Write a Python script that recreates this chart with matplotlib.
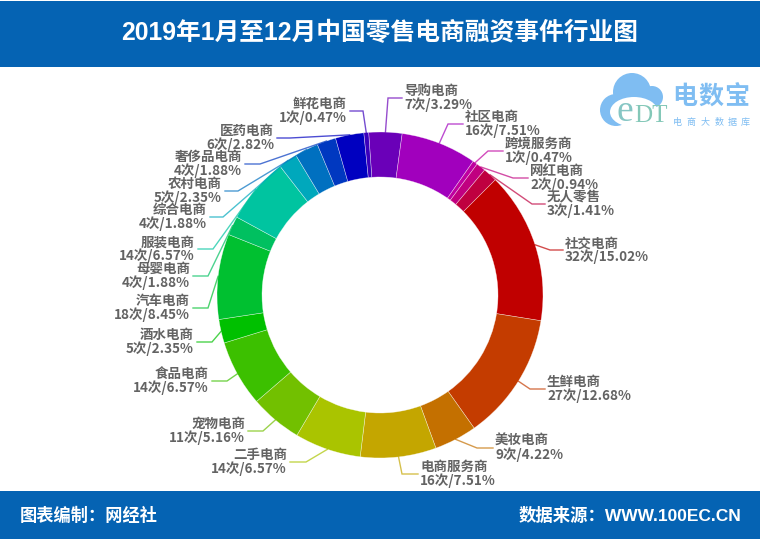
import matplotlib
matplotlib.use('Agg')
import matplotlib.pyplot as plt
import numpy as np
from matplotlib.patches import Rectangle, Circle, Ellipse

plt.rcParams['font.family'] = ['Noto Sans CJK SC', 'DejaVu Sans']
BAR_FONT = ['Liberation Sans', 'Noto Sans CJK SC']

names = ['导购电商', '社区电商', '跨境服务商', '网红电商', '无人零售', '社交电商', '生鲜电商',
         '美妆电商', '电商服务商', '二手电商', '宠物电商', '食品电商', '酒水电商', '汽车电商',
         '母婴电商', '服装电商', '综合电商', '农村电商', '奢侈品电商', '医药电商', '鲜花电商']
counts = [7, 16, 1, 2, 3, 32, 27, 9, 16, 14, 11, 14, 5, 18, 4, 14, 4, 5, 4, 6, 1]
pcts = ['3.29', '7.51', '0.47', '0.94', '1.41', '15.02', '12.68', '4.22', '7.51', '6.57', '5.16',
        '6.57', '2.35', '8.45', '1.88', '6.57', '1.88', '2.35', '1.88', '2.82', '0.47']
colors = ['#6a00b8', '#a100bd', '#bf00a0', '#c00080', '#bf0040', '#c00000', '#c43c00',
          '#c47000', '#c4a600', '#aac400', '#72c000', '#3cc000', '#00c000', '#00c030',
          '#00c060', '#00c4a0', '#00a8bc', '#0070c0', '#0038c0', '#0000c0', '#3a00bc']

# elbow of each leader line and where it ends, in image pixels (y down)
elbows = [(388, 98), (448, 124), (488, 151), (513, 178), (532, 204), (550, 250), (530, 389),
          (477, 448), (402, 474), (306, 462), (263, 431), (227, 381), (212, 342), (208, 308),
          (208, 276), (213, 249), (223, 217), (238, 191), (260, 164), (290, 138), (363, 111)]
ends = [402, 463, 503, 528, 545, 563, 545, 493, 418, 290, 248, 212, 197, 193, 193, 198, 210,
        225, 245, 277, 350]

W, H = 760, 539
BLUE = '#0563b3'
fig = plt.figure(figsize=(W / 100, H / 100), dpi=100)
ax = fig.add_axes([0, 0, 1, 1])
ax.set_xlim(0, W)
ax.set_ylim(0, H)
ax.axis('off')


def py(y):
    return H - y


ax.add_patch(Rectangle((0, py(67)), W, 66, color=BLUE, lw=0))
ax.add_patch(Rectangle((0, 0), W, 48, color=BLUE, lw=0))
ax.text(380, py(33), '2019年1月至12月中国零售电商融资事件行业图', color='white', fontsize=17.8,
        fontweight='bold', ha='center', va='center', family=BAR_FONT)
ax.text(20, py(515), '图表编制：网经社', color='white', fontsize=12.4, fontweight='bold',
        ha='left', va='center', family=BAR_FONT)
ax.text(741, py(515), '数据来源：WWW.100EC.CN', color='white', fontsize=12.5, fontweight='bold',
        ha='right', va='center', family=BAR_FONT)

cx, cy, R = 380, py(295), 163
wedges, _ = ax.pie(counts, colors=colors, center=(cx, cy), radius=R, startangle=94,
                   counterclock=False, frame=False,
                   wedgeprops=dict(width=45, edgecolor='#ffffff90', linewidth=0.4))
ax.set_xlim(0, W)
ax.set_ylim(0, H)
ax.set_aspect('auto')

for i, w in enumerate(wedges):
    mid = np.deg2rad((w.theta1 + w.theta2) / 2)
    x0, y0 = cx + R * np.cos(mid), cy + R * np.sin(mid)
    ex, ey = elbows[i]
    ax.plot([x0, ex, ends[i]], [y0, py(ey), py(ey)], color=colors[i], lw=1, alpha=0.7,
            solid_joinstyle='miter')
    left = ends[i] > ex
    tx = ends[i] + 2 if left else ends[i] - 3
    ax.text(tx, py(ey), names[i] + '\n' + str(counts[i]) + '次/' + pcts[i] + '%', color='#636363',
            fontsize=9.7, fontweight='bold', ha='left' if left else 'right', va='center',
            linespacing=0.9)

# logo
logo = '#7fbdf2'
for x, y, r in [(616, 110, 16), (632, 92, 19), (652, 97, 11)]:
    ax.add_patch(Circle((x, py(y)), r, color=logo, lw=0))
ax.add_patch(Ellipse((634, py(112)), 48, 30, color='white', lw=0))
ax.add_patch(Rectangle((622, py(132)), 48, 22, color='white', lw=0))
ax.text(625, py(112), 'e', color='#86c6c4', fontsize=27, ha='center', va='center',
        family='Liberation Serif')
ax.text(651, py(116), 'DT', color='#84c8b8', fontsize=18, ha='center', va='center',
        family='Liberation Serif')
for x, ch in zip([685, 711, 737], '电数宝'):
    ax.text(x, py(97), ch, color=logo, fontsize=18, fontweight='bold', ha='center', va='center')
for x, ch in zip([677, 691, 705, 719, 732, 745], '电商大数据库'):
    ax.text(x, py(122), ch, color=logo, fontsize=6.5, ha='center', va='center')

fig.savefig('out.png', dpi=100)
